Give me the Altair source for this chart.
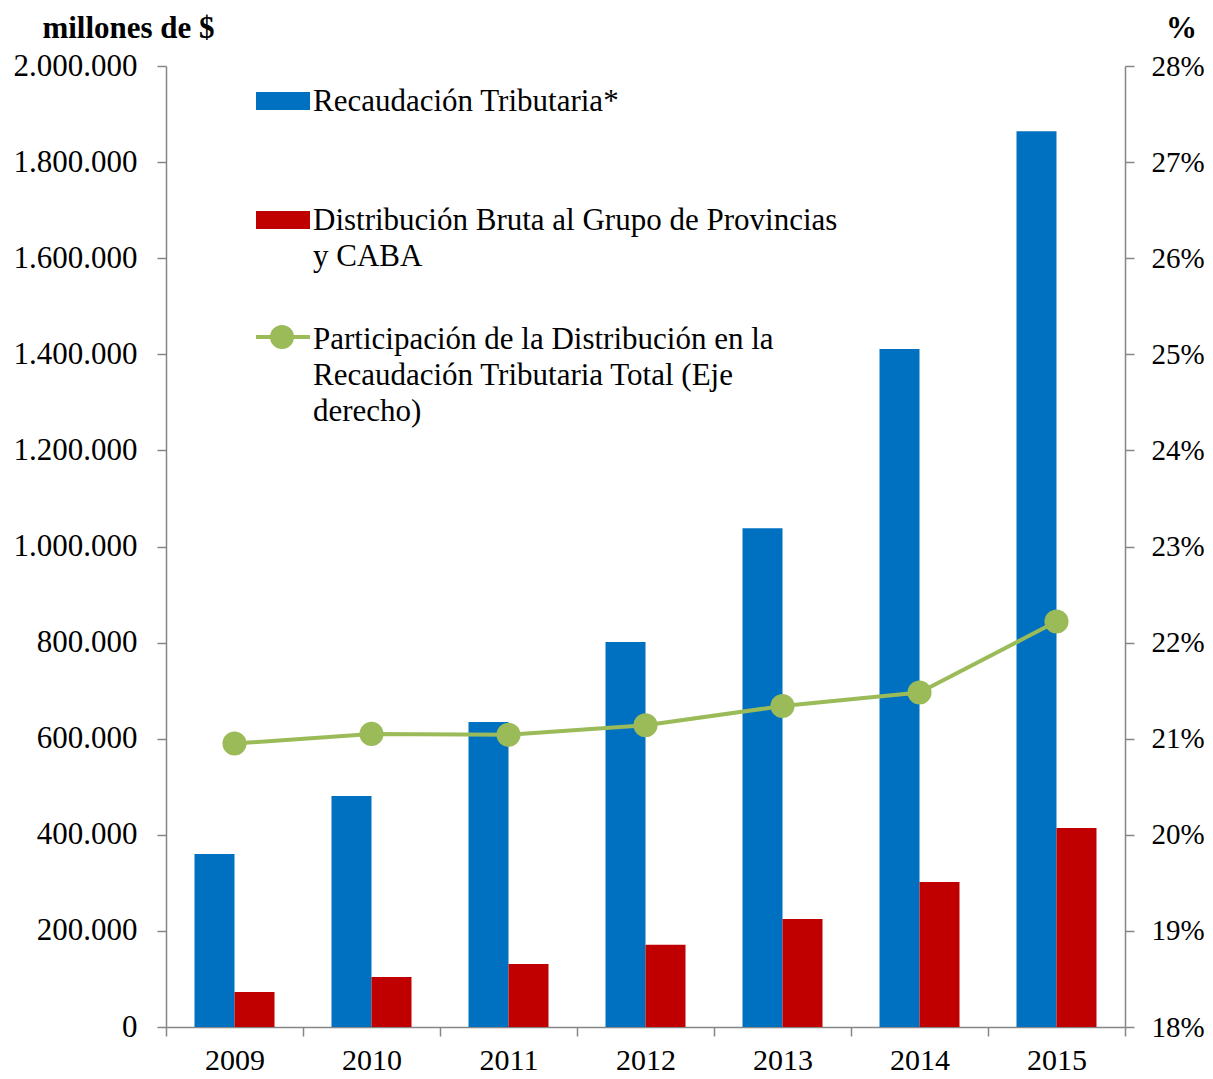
import altair as alt
import pandas as pd

years = ["2009", "2010", "2011", "2012", "2013", "2014", "2015"]
recaudacion = [360000, 481000, 635000, 801000, 1038000, 1411000, 1864000]
distribucion = [73000, 104000, 131000, 171000, 225000, 302000, 414000]
participacion = [20.95, 21.05, 21.04, 21.14, 21.34, 21.48, 22.22]

series_names = ["Recaudación Tributaria*", "Distribución Bruta al Grupo de Provincias y CABA"]
series_colors = ["#0070C0", "#C00000"]
line_name_lines = ["Participación de la Distribución en la",
                   "Recaudación Tributaria Total (Eje",
                   "derecho)"]
red_name_lines = ["Distribución Bruta al Grupo de Provincias", "y CABA"]
LINE_COLOR = "#9BBB59"
FONT = "Liberation Serif"
AXIS_COLOR = "#868686"
FS = 31

bars_df = pd.DataFrame({
    "year": years * 2,
    "serie": [series_names[0]] * len(years) + [series_names[1]] * len(years),
    "valor": recaudacion + distribucion,
})
line_df = pd.DataFrame({"year": years, "pct": participacion})

x_enc = alt.X(
    "year:N",
    scale=alt.Scale(paddingInner=0, paddingOuter=0),
    axis=alt.Axis(title=None, tickBand="extent", labelAngle=0, tickSize=9,
                  labelPadding=9, labelFontSize=30),
)

bars = alt.Chart(bars_df).mark_bar().encode(
    x=x_enc,
    xOffset=alt.XOffset("serie:N", sort=series_names,
                        scale=alt.Scale(paddingInner=0, paddingOuter=0.7125)),
    y=alt.Y("valor:Q", scale=alt.Scale(domain=[0, 2000000]),
            axis=alt.Axis(values=list(range(0, 2000001, 200000)),
                          labelExpr="replace(replace(format(datum.value, ','), ',', '.'), ',', '.')",
                          title="millones de $", titleAngle=0, titleX=-38, titleY=-38,
                          titleAlign="center", titleBaseline="middle",
                          tickSize=9, labelPadding=20)),
    color=alt.Color("serie:N", scale=alt.Scale(domain=series_names, range=series_colors),
                    legend=None),
)

line = alt.Chart(line_df).mark_line(
    color=LINE_COLOR, strokeWidth=4,
    point=alt.OverlayMarkDef(filled=True, color=LINE_COLOR, size=580, opacity=1),
).encode(
    x=x_enc,
    y=alt.Y("pct:Q", scale=alt.Scale(domain=[18, 28]),
            axis=alt.Axis(orient="right", values=list(range(18, 29)),
                          labelExpr="datum.value + '%'",
                          labelFontSize=29,
                          title="%", titleAngle=0, titleX=56, titleY=-38,
                          titleAlign="center", titleBaseline="middle",
                          tickSize=9, labelPadding=17)),
)

one = alt.Data(values=[{"k": 1}])


def swatch(color, y0, y1):
    return alt.Chart(one).mark_rect(color=color).encode(
        x=alt.value(90), x2=alt.value(144), y=alt.value(y0), y2=alt.value(y1))


def label(text, y):
    return alt.Chart(one).mark_text(
        text=text, align="left", baseline="middle", font=FONT, fontSize=FS, color="black"
    ).encode(x=alt.value(147), y=alt.value(y))


leg_line = alt.Chart(one).mark_rule(color=LINE_COLOR, strokeWidth=4).encode(
    x=alt.value(90), x2=alt.value(144), y=alt.value(271))
leg_point = alt.Chart(one).mark_point(filled=True, color=LINE_COLOR, size=580, opacity=1).encode(
    x=alt.value(116), y=alt.value(271))

legend_layers = [
    swatch(series_colors[0], 26, 44),
    label(series_names[0], 36),
    swatch(series_colors[1], 145, 163),
    label(red_name_lines[0], 155),
    label(red_name_lines[1], 191),
    leg_line, leg_point,
    label(line_name_lines[0], 274),
    label(line_name_lines[1], 310),
    label(line_name_lines[2], 346),
]

chart = alt.layer(bars, line, *legend_layers).resolve_scale(
    y="independent"
).properties(
    width=959, height=961,
    padding={"left": 158, "top": 58, "right": 80, "bottom": 48},
    autosize="none",
).configure_view(stroke=None).configure_axis(
    grid=False,
    domainColor=AXIS_COLOR, domainWidth=1.5,
    tickColor=AXIS_COLOR, tickWidth=1.5,
    labelFont=FONT, labelFontSize=FS, labelColor="black",
    titleFont=FONT, titleFontSize=FS, titleColor="black", titleFontWeight="bold",
)

chart.save("out.html", embed_options={"renderer": "svg", "actions": False})
